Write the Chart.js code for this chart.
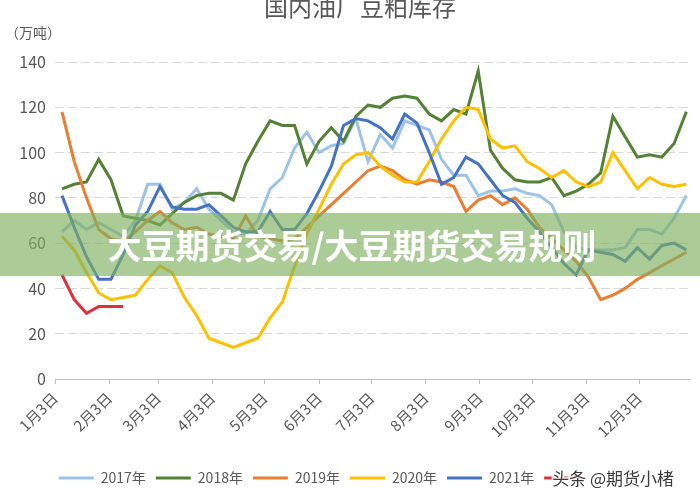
<!DOCTYPE html>
<html lang="zh">
<head>
<meta charset="UTF-8">
<title>国内油厂豆粕库存</title>
<script src="https://cdn.jsdelivr.net/npm/chart.js"></script>
<style>
    html, body { margin: 0; padding: 0; background: #fff; }
    #wrap { width: 700px; height: 490px; position: relative; }
</style>
</head>
<body>
<div id="wrap"><canvas id="stockChart"></canvas></div>
<script>
// weekly readings, first reading around Jan 7, one value per week
const years = ['2017年', '2018年', '2019年', '2020年', '2021年', '2022年'];
const monthLabels = ['1月3日', '2月3日', '3月3日', '4月3日', '5月3日', '6月3日',
                     '7月3日', '8月3日', '9月3日', '10月3日', '11月3日', '12月3日'];
// days between the first weekly reading and each labelled date
const monthDays = [-4, 27, 55, 86, 116, 147, 177, 208, 239, 269, 300, 330];
const yTicks = [0, 20, 40, 60, 80, 100, 120, 140];

const s2017 = [65, 70, 66, 69, 66, 63, 70, 86, 86, 75, 78, 84, 75, 70, 65, 64, 70, 84, 89, 102,
               109, 100, 103, 104, 115, 96, 108, 102, 114, 112, 110, 97, 90, 90, 81, 83, 83, 84, 82, 81,
               77, 65, 58, 57, 57, 57, 58, 66, 66, 64, 71, 81];
const s2018 = [84, 86, 87, 97, 88, 72, 71, 70, 68, 73, 78, 81, 82, 82, 79, 95, 105, 114, 112, 112,
               95, 105, 111, 105, 116, 121, 120, 124, 125, 124, 117, 114, 119, 117, 136, 101, 93, 88, 87, 87,
               89, 81, 83, 86, 91, 116, 107, 98, 99, 98, 104, 118];
const s2019 = [118, 96, 80, 66, 62, 61, 65, 70, 74, 69, 66, 67, 64, 63, 62, 72, 63, 62, 61, 62,
               67, 72, 77, 82, 87, 92, 94, 92, 88, 86, 88, 87, 85, 74, 79, 81, 77, 80, 75, 67,
               62, 57, 52, 45, 35, 37, 40, 44, 47, 50, 53, 56];
const s2020 = [63, 57, 47, 38, 35, 36, 37, 44, 50, 47, 36, 28, 18, 16, 14, 16, 18, 27, 34, 50,
               64, 75, 86, 95, 99, 100, 94, 90, 87, 87, 96, 106, 114, 120, 119, 106, 102, 103, 96, 93,
               89, 92, 87, 85, 87, 100, 92, 84, 89, 86, 85, 86];
const s2021 = [81, 67, 54, 44, 44, 55, 68, 74, 85, 76, 75, 75, 77, 72, 67, 65, 65, 74, 66, 66,
               73, 83, 94, 112, 115, 114, 111, 106, 117, 113, 100, 86, 89, 98, 95, 88, 81, 78, 71, 65,
               58, 51, 46, 57, 56, 55, 52, 58, 53, 59, 60, 57];
const s2022 = [46, 35, 29, 32, 32, 32];

const seriesValues = [s2017, s2018, s2019, s2020, s2021, s2022];
const colors = ['#9dc3e6', '#548235', '#ed7d31', '#ffc000', '#4472c4', '#e0303f'];

const FONT = '"Noto Sans CJK SC", "Noto Sans", sans-serif';
const TEXT = '#595959';

// title, unit, banner and watermark painted on top of the chart
const decor = {
    id: 'decor',
    afterDraw(chart) {
        const ctx = chart.ctx;
        ctx.save();

        ctx.fillStyle = TEXT;
        ctx.textBaseline = 'middle';
        ctx.textAlign = 'center';
        ctx.font = '24px ' + FONT;
        ctx.fillText('国内油厂豆粕库存', 360, 7);
        ctx.textAlign = 'left';
        ctx.font = '14px ' + FONT;
        ctx.fillText('（万吨）', 5, 33);

        // green banner across the middle
        ctx.fillStyle = 'rgba(126, 175, 95, 0.65)';
        ctx.fillRect(0, 213, chart.width, 63);
        ctx.fillStyle = '#ffffff';
        ctx.textAlign = 'center';
        ctx.font = 'bold 34px ' + FONT;
        ctx.fillText('大豆期货交易/大豆期货交易规则', 352, 246);

        // watermark over the last legend entry
        const hit = chart.legend.legendHitBoxes[5];
        if (hit) {
            ctx.fillStyle = '#ffffff';
            ctx.fillRect(hit.left + 38, hit.top - 3, hit.width, hit.height + 6);
            ctx.textAlign = 'left';
            ctx.font = '17px ' + FONT;
            ctx.lineWidth = 3;
            ctx.strokeStyle = 'rgba(255,255,255,0.9)';
            ctx.strokeText('头条 @期货小楮', hit.left + 8, hit.top + hit.height / 2 + 1);
            ctx.fillStyle = '#3c3c3c';
            ctx.fillText('头条 @期货小楮', hit.left + 8, hit.top + hit.height / 2 + 1);
        }
        ctx.restore();
    }
};

const datasets = years.map((name, i) => ({
    label: name,
    data: seriesValues[i].map((v, w) => ({ x: w, y: v })),
    borderColor: colors[i],
    backgroundColor: colors[i],
    borderWidth: 3,
    pointRadius: 0,
    tension: 0,
    order: years.length - i
}));

new Chart(document.getElementById('stockChart'), {
    type: 'line',
    data: { datasets: datasets },
    options: {
        responsive: true,
        maintainAspectRatio: false,
        animation: false,
        layout: { padding: { top: 62, right: 10, left: 0, bottom: -5 } },
        scales: {
            x: {
                type: 'linear',
                min: monthDays[0] / 7,
                max: 51.3,
                afterBuildTicks: (scale) => {
                    scale.ticks = monthDays.map(d => ({ value: d / 7 }));
                },
                afterFit: (scale) => { scale.height = 82; },
                ticks: {
                    autoSkip: false,
                    minRotation: 45,
                    maxRotation: 45,
                    padding: 5,
                    color: TEXT,
                    font: { size: 15, family: FONT },
                    callback: (value, index) => monthLabels[index]
                },
                grid: { drawOnChartArea: false, drawTicks: true, tickLength: 5, color: '#bfbfbf' },
                border: { display: true, color: '#bfbfbf' }
            },
            y: {
                min: 0,
                max: 140,
                afterBuildTicks: (scale) => {
                    scale.ticks = yTicks.map(v => ({ value: v }));
                },
                afterFit: (scale) => { scale.width = 55; },
                ticks: { padding: 9, color: TEXT, font: { size: 16, family: FONT } },
                grid: { color: '#d9d9d9', drawTicks: false },
                border: { display: false, dash: [9, 4] }
            }
        },
        plugins: {
            tooltip: { enabled: false },
            legend: {
                position: 'bottom',
                labels: {
                    boxWidth: 35,
                    boxHeight: 3,
                    padding: 10,
                    color: TEXT,
                    font: { size: 14, family: FONT },
                    sort: (a, b) => a.datasetIndex - b.datasetIndex,
                    generateLabels: (chart) => {
                        const items = Chart.defaults.plugins.legend.labels.generateLabels(chart);
                        items.forEach(it => { it.fillStyle = it.strokeStyle; it.lineWidth = 0; });
                        return items;
                    }
                }
            }
        }
    },
    plugins: [decor]
});
</script>
</body>
</html>
